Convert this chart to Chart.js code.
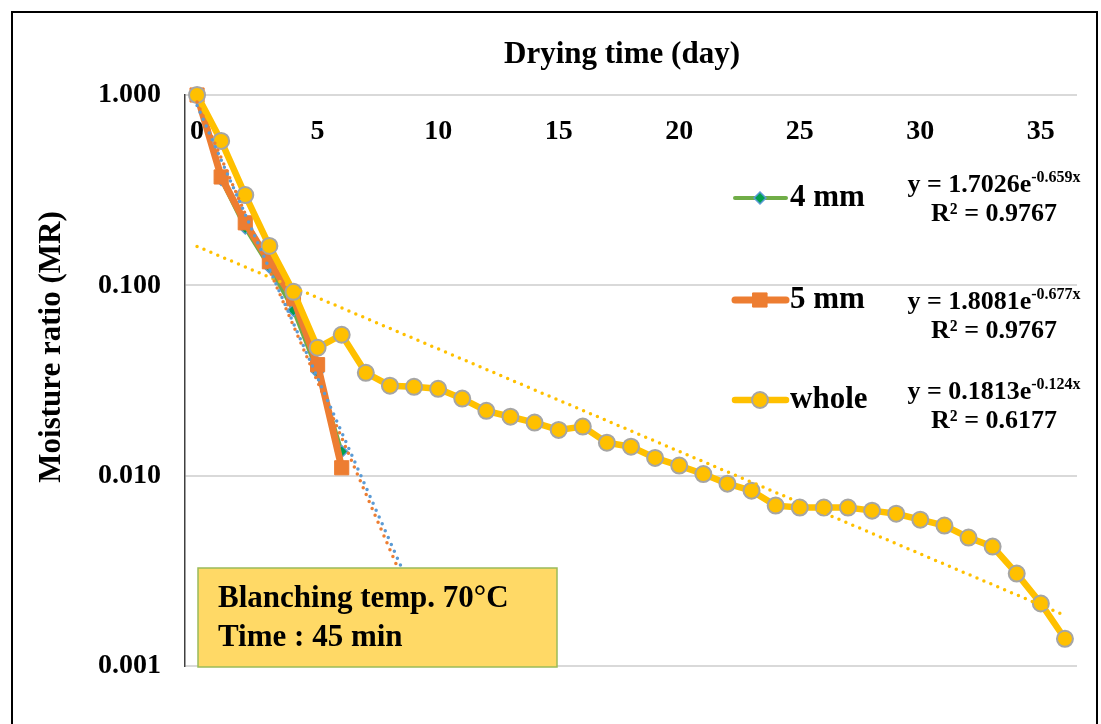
<!DOCTYPE html>
<html>
<head>
<meta charset="utf-8">
<script src="https://cdn.jsdelivr.net/npm/chart.js@4.4.1/dist/chart.umd.min.js"></script>
<style>
  body { margin: 0; background: #fff; }
  canvas { display: block; }
</style>
</head>
<body>
<canvas id="drying" width="1101" height="724"></canvas>
<script>
// drying days (x) and moisture ratio (MR)
const daysWhole = [0, 1, 2, 3, 4, 5, 6, 7, 8, 9, 10, 11, 12, 13, 14, 15, 16, 17, 18,
  19, 20, 21, 22, 23, 24, 25, 26, 27, 28, 29, 30, 31, 32, 33, 34, 35, 36];
const mrWhole = [1.0, 0.574, 0.298, 0.161, 0.0925, 0.047, 0.055, 0.0347, 0.0297, 0.0293,
  0.0286, 0.0254, 0.0219, 0.0204, 0.0190, 0.0174, 0.0181, 0.0149, 0.0142, 0.0124,
  0.0113, 0.0102, 0.00908, 0.00834, 0.00696, 0.0068, 0.0068, 0.0068, 0.00655, 0.00631,
  0.00587, 0.00547, 0.00473, 0.00424, 0.00306, 0.00213, 0.00139];

const daysSliced = [0, 1, 2, 3, 4, 5, 6];
const mr4mm = [1.0, 0.36, 0.20, 0.125, 0.074, 0.035, 0.0134];
const mr5mm = [1.0, 0.371, 0.213, 0.133, 0.085, 0.0383, 0.0110];

// exponential trendlines as printed on the chart (Excel fits them on point index = day + 1)
const trendNames = ["4 mm", "5 mm", "whole"];
const trendA = [1.7026, 1.8081, 0.1813];
const trendB = [-0.659, -0.677, -0.124];
const trendR2 = ["0.9767", "0.9767", "0.6177"];
const trendFrom = [0, 0, 0];
const trendTo = [10, 10, 36];

const xTicks = [0, 5, 10, 15, 20, 25, 30, 35];
const yTicks = [0.001, 0.01, 0.1, 1];

const FONT = "'Liberation Serif', 'Times New Roman', serif";
const colWhole = "#FFC000", col5 = "#ED7D31", col4 = "#70AD47";

function pts(xs, ys) { return xs.map((x, i) => ({ x: x, y: ys[i] })); }
function trendPts(k) {
  // straight on a log axis, so the two ends are enough
  return [trendFrom[k], trendTo[k]].map(d => ({ x: d, y: trendA[k] * Math.exp(trendB[k] * (d + 1)) }));
}

const trendColors = ["#5B9BD5", col5, colWhole];
const trendSets = [0, 1, 2].map(k => ({
  label: trendNames[k] + " trend",
  data: trendPts(k),
  borderColor: trendColors[k],
  borderWidth: 3.5,
  borderDash: [0, 7.5],
  borderCapStyle: "round",
  pointRadius: 0,
  order: 0,
}));

const overlay = {
  id: "overlay",
  afterDatasetsDraw(chart) {
    const ctx = chart.ctx;
    ctx.save();
    // note box
    ctx.fillStyle = "#FFD966";
    ctx.fillRect(198, 568, 359, 99);
    ctx.strokeStyle = "#9BBB59";
    ctx.lineWidth = 1.5;
    ctx.strokeRect(198, 568, 359, 99);
    ctx.fillStyle = "#000";
    ctx.font = "bold 31px " + FONT;
    ctx.textBaseline = "alphabetic";
    ctx.textAlign = "left";
    ctx.fillText("Blanching temp. 70\u00B0C", 218, 607);
    ctx.fillText("Time : 45 min", 218, 646);
    ctx.restore();
  },
  afterDraw(chart) {
    const ctx = chart.ctx;
    ctx.save();
    // outer frame
    ctx.strokeStyle = "#000";
    ctx.lineWidth = 2;
    ctx.strokeRect(12, 12, 1085, 740);

    ctx.fillStyle = "#000";
    ctx.textBaseline = "middle";
    ctx.textAlign = "center";
    ctx.font = "bold 31px " + FONT;
    ctx.fillText("Drying time (day)", 622, 55);
    ctx.save();
    ctx.translate(52, 347);
    ctx.rotate(-Math.PI / 2);
    ctx.fillText("Moisture ratio (MR)", 0, 0);
    ctx.restore();

    // legend with equations
    const rows = [198, 300, 400];
    const eqY = [183, 300, 390];
    const sets = [chart.data.datasets[5], chart.data.datasets[4], chart.data.datasets[3]];
    rows.forEach((y, i) => {
      const ds = sets[i];
      ctx.strokeStyle = ds.borderColor;
      ctx.lineWidth = ds.borderWidth;
      ctx.lineCap = "round";
      ctx.beginPath();
      ctx.moveTo(735, y);
      ctx.lineTo(786, y);
      ctx.stroke();
      ctx.fillStyle = ds.pointBackgroundColor;
      ctx.strokeStyle = ds.pointBorderColor;
      ctx.lineWidth = ds.pointBorderWidth;
      ctx.beginPath();
      drawMarker(ctx, ds.pointStyle, ds.pointRadius, 760, y);
      ctx.fill();
      ctx.stroke();

      ctx.fillStyle = "#000";
      ctx.textAlign = "left";
      ctx.textBaseline = "middle";
      ctx.font = "bold 31px " + FONT;
      ctx.fillText(trendNames[i], 790, y);

      const a = trendA[i].toFixed(4), b = trendB[i].toFixed(3);
      drawEq(ctx, 994, eqY[i] + 9, "y = " + a + "e", b + "x");
      drawEq(ctx, 994, eqY[i] + 38, "R\u00B2 = " + trendR2[i], "");
    });
    ctx.restore();
  }
};

function drawMarker(ctx, style, r, x, y) {
  if (style === "rect") {
    const s = Math.SQRT1_2 * r;
    ctx.rect(x - s, y - s, 2 * s, 2 * s);
  } else if (style === "rectRot") {
    ctx.moveTo(x, y - r); ctx.lineTo(x + r, y); ctx.lineTo(x, y + r); ctx.lineTo(x - r, y); ctx.closePath();
  } else {
    ctx.arc(x, y, r, 0, Math.PI * 2);
  }
}

function drawEq(ctx, cx, baseY, base, sup) {
  ctx.textBaseline = "alphabetic";
  ctx.textAlign = "left";
  ctx.font = "bold 26px " + FONT;
  const w1 = ctx.measureText(base).width;
  ctx.font = "bold 16px " + FONT;
  const w2 = sup ? ctx.measureText(sup).width : 0;
  let x = cx - (w1 + w2) / 2;
  ctx.font = "bold 26px " + FONT;
  ctx.fillText(base, x, baseY);
  if (sup) {
    ctx.font = "bold 16px " + FONT;
    ctx.fillText(sup, x + w1, baseY - 10);
  }
}

const config = {
  type: "line",
  data: {
    datasets: trendSets.concat([
      {
        label: "whole",
        data: pts(daysWhole, mrWhole),
        borderColor: colWhole,
        borderWidth: 6.5,
        pointStyle: "circle",
        pointRadius: 8,
        pointBackgroundColor: colWhole,
        pointBorderColor: "#A5A5A5",
        pointBorderWidth: 2,
        order: 1,
      },
      {
        label: "5 mm",
        data: pts(daysSliced, mr5mm),
        borderColor: col5,
        borderWidth: 7,
        pointStyle: "rect",
        pointRadius: 10,
        pointBackgroundColor: col5,
        pointBorderColor: col5,
        pointBorderWidth: 1,
        order: 2,
      },
      {
        label: "4 mm",
        data: pts(daysSliced, mr4mm),
        borderColor: col4,
        borderWidth: 4,
        pointStyle: "rectRot",
        pointRadius: 6,
        pointBackgroundColor: "#00A050",
        pointBorderColor: "#5B9BD5",
        pointBorderWidth: 1.5,
        order: 3,
      },
    ]),
  },
  options: {
    responsive: false,
    animation: false,
    clip: false,
    layout: { padding: { top: 95, bottom: 58, right: 24, left: 0 } },
    plugins: {
      legend: { display: false },
      tooltip: { enabled: false },
    },
    scales: {
      y: {
        type: "logarithmic",
        min: 0.001,
        max: 1,
        afterBuildTicks: (axis) => { axis.ticks = yTicks.map(v => ({ value: v })); },
        afterFit: (axis) => { axis.width = 185; },
        ticks: {
          callback: (v) => Number(v).toFixed(3),
          font: { family: FONT, size: 28, weight: "bold" },
          color: "#000",
          padding: 24,
        },
        grid: { color: "#D9D9D9", lineWidth: 2, drawTicks: false },
        border: { display: true, color: "#404040", width: 1.5 },
      },
      x: {
        type: "linear",
        min: -0.5,
        max: 36.5,
        position: { y: 1 },
        afterBuildTicks: (axis) => { axis.ticks = xTicks.map(v => ({ value: v })); },
        ticks: {
          font: { family: FONT, size: 28, weight: "bold" },
          color: "#000",
          padding: 20,
          maxRotation: 0,
          autoSkip: false,
        },
        grid: { display: false, drawTicks: false },
        border: { display: false },
      },
    },
  },
  plugins: [overlay],
};

window.addEventListener("load", function () {
  const ctx = document.getElementById("drying");
  new Chart(ctx, config);
});
</script>
</body>
</html>
